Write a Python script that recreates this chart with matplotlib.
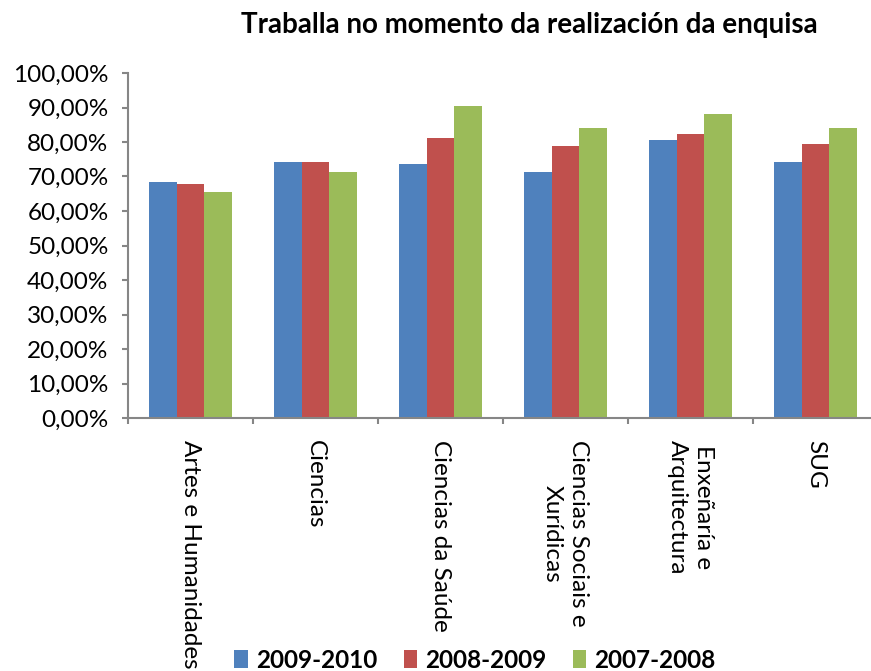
import numpy as np
import matplotlib.pyplot as plt
from matplotlib.ticker import FuncFormatter

# datos da enquisa
categorias = ["Artes e Humanidades", "Ciencias", "Ciencias da Saúde",
              "Ciencias Sociais e\nXurídicas", "Enxeñaría e\nArquitectura", "SUG"]
series = ["2009-2010", "2008-2009", "2007-2008"]
v_2009_2010 = [0.684, 0.742, 0.736, 0.713, 0.806, 0.742]
v_2008_2009 = [0.678, 0.742, 0.811, 0.788, 0.823, 0.794]
v_2007_2008 = [0.655, 0.713, 0.904, 0.840, 0.881, 0.840]
cores = ["#4F81BD", "#C0504D", "#9BBB59"]

if __name__ == "__main__":
    plt.rcParams['font.family'] = ['Lato', 'DejaVu Sans']

    W, H = 871, 671
    fig = plt.figure(figsize=(W / 100, H / 100), dpi=100)
    ax = fig.add_axes([128 / W, 1 - 418 / H, 750 / W, 345 / H])

    x = np.arange(len(categorias)) + 0.5
    ancho = 0.222
    valores = [v_2009_2010, v_2008_2009, v_2007_2008]
    for i, (serie, vals) in enumerate(zip(series, valores)):
        ax.bar(x + (i - 1) * ancho, vals, width=ancho, color=cores[i],
               label=serie, zorder=2)

    ax.set_xlim(0, len(categorias))
    ax.set_ylim(0, 1)

    # eixo Y
    ax.set_yticks(np.arange(0, 1.01, 0.1))
    ax.yaxis.set_major_formatter(FuncFormatter(
        lambda v, p: ("%.2f%%" % (v * 100)).replace(".", ",")))
    ax.tick_params(axis='y', length=4, width=1.5, color="#868686",
                   pad=10, labelsize=17.5)

    # eixo X: marcas entre grupos, etiquetas no centro
    ax.set_xticks(np.arange(0, len(categorias) + 1))
    ax.set_xticklabels([])
    ax.tick_params(axis='x', which='major', length=4, width=1.5,
                   color="#868686")
    ax.set_xticks(x, minor=True)
    ax.set_xticklabels(categorias, minor=True, rotation=270,
                       ha='center', va='top', multialignment='center',
                       fontsize=17.5, linespacing=1.3)
    ax.tick_params(axis='x', which='minor', length=0, pad=16)

    for s in ["top", "right"]:
        ax.spines[s].set_visible(False)
    for s in ["left", "bottom"]:
        ax.spines[s].set_color("#868686")
        ax.spines[s].set_linewidth(1.5)

    fig.text(529 / W, 1 - 25 / H, "Traballa no momento da realización da enquisa",
             ha='center', va='center', fontsize=20, fontweight='bold')

    fig.legend(loc='center', bbox_to_anchor=(475 / W, 1 - 660 / H), ncol=3,
               frameon=False, handlelength=0.55, handleheight=0.7,
               handletextpad=0.33, columnspacing=1.1,
               prop={'weight': 'bold', 'size': 17.5})

    fig.savefig("out.png", dpi=100)
